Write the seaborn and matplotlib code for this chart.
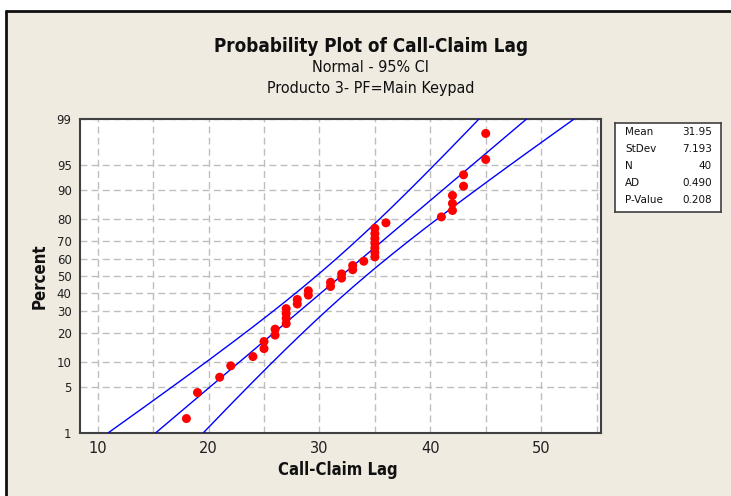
import matplotlib
matplotlib.use('Agg')
import matplotlib.pyplot as plt
from matplotlib.lines import Line2D
from matplotlib.patches import Rectangle
import seaborn as sns
import numpy as np
import pandas as pd
from statistics import NormalDist

# ---- data ----
values = [18, 19, 21, 22, 24, 25, 25, 26, 26, 27, 27, 27, 27, 28, 28, 29, 29,
          31, 31, 32, 32, 33, 33, 34, 35, 35, 35, 35, 35, 35, 35, 36, 41,
          42, 42, 42, 43, 43, 45, 45]
stat_labels = ["Mean", "StDev", "N", "AD", "P-Value"]
stat_values = ["31.95", "7.193", "40", "0.490", "0.208"]
mean_val = 31.95
stdev_val = 7.193
pct_ticks = [1, 5, 10, 20, 30, 40, 50, 60, 70, 80, 90, 95, 99]
x_ticks = [10, 20, 30, 40, 50]
x_minor = [15, 25, 35, 45, 55]

sns.set_style('white')
plt.rcParams['font.family'] = ['DejaVu Sans']

W, H = 731, 496
fig = plt.figure(figsize=(W / 100, H / 100), dpi=100)
fig.patch.set_facecolor('white')
bg = '#EFEBE1'
fig.patches.append(Rectangle((6 / W, 0), 1, 1 - 11 / H, transform=fig.transFigure,
                             facecolor=bg, edgecolor='none', zorder=-10))
fig.lines.append(Line2D([6 / W, 1], [1 - 11 / H, 1 - 11 / H], transform=fig.transFigure,
                        color='#101010', lw=2, zorder=-5))
fig.lines.append(Line2D([6 / W, 6 / W], [0, 1 - 11 / H], transform=fig.transFigure,
                        color='#101010', lw=2, zorder=-5))

nd = NormalDist()
n = len(values)
ranks = np.arange(1, n + 1)
pp = (ranks - 0.3) / (n + 0.4)
df = pd.DataFrame({'x': sorted(values), 'z': [nd.inv_cdf(p) for p in pp]})

zlo, zhi = nd.inv_cdf(0.01), nd.inv_cdf(0.99)
zg = np.linspace(zlo, zhi, 200)
fit = mean_val + stdev_val * zg
se = stdev_val * np.sqrt(1 / n + zg ** 2 / (2 * n))
lines = pd.DataFrame({'z': zg, 'fit': fit, 'lo': fit - 1.96 * se, 'hi': fit + 1.96 * se})

ax = fig.add_axes([80 / W, 1 - 433 / H, (601 - 80) / W, (433 - 119) / H])
ax.set_facecolor('white')

for col in ['lo', 'fit', 'hi']:
    sns.lineplot(data=lines, x=col, y='z', sort=False, ax=ax, color='#0000FF',
                 lw=1.0, estimator=None, zorder=3)
sns.scatterplot(data=df, x='x', y='z', ax=ax, color='#FF0000', s=42,
                edgecolor='none', zorder=4)

ax.set_xlim(8.4, 55.4)
ax.set_ylim(zlo, zhi)
ax.set_xticks(x_ticks)
ax.set_xticks(x_minor, minor=True)
ax.set_xticklabels([str(t) for t in x_ticks], fontsize=10.5, color='#202020')
ax.set_yticks([nd.inv_cdf(p / 100) for p in pct_ticks])
ax.set_yticklabels([str(p) for p in pct_ticks], fontsize=8.5, color='#202020')
ax.grid(which='both', axis='x', ls=(0, (5, 3)), color='#BEBEBE', lw=1)
ax.grid(which='major', axis='y', ls=(0, (5, 3)), color='#BEBEBE', lw=1)
ax.set_axisbelow(True)
ax.tick_params(axis='both', which='major', direction='out', length=4, width=1,
               color='#303030', pad=2)
ax.tick_params(axis='x', which='minor', length=0)
for sp in ax.spines.values():
    sp.set_color('#404040')
    sp.set_linewidth(1.5)
ax.set_xlabel('')
ax.set_ylabel('')

fig.text(40 / W, 1 - 276 / H, 'Percent', rotation=90, ha='center', va='center',
         fontsize=12, fontweight='bold', fontstretch='condensed', color='#101010')
fig.text(338 / W, 1 - 470 / H, 'Call-Claim Lag', ha='center', va='center',
         fontsize=12, fontweight='bold', fontstretch='condensed', color='#101010')

fig.text(371 / W, 1 - 46 / H, 'Probability Plot of Call-Claim Lag', ha='center',
         va='center', fontsize=13.5, fontweight='bold', fontstretch='condensed',
         color='#101010')
fig.text(370 / W, 1 - 68 / H, 'Normal - 95% CI', ha='center', va='center',
         fontsize=11.5, fontstretch='condensed', color='#101010')
fig.text(371 / W, 1 - 89 / H, 'Producto 3- PF=Main Keypad', ha='center', va='center',
         fontsize=11.5, fontstretch='condensed', color='#101010')

# statistics box
bx = fig.add_axes([615 / W, 1 - 212 / H, (721 - 615) / W, (212 - 123) / H])
bx.set_facecolor('white')
bx.set_xticks([])
bx.set_yticks([])
for sp in bx.spines.values():
    sp.set_color('#404040')
    sp.set_linewidth(1.2)
ys = [131.7, 149, 166, 183, 200]
for lab, val, yp in zip(stat_labels, stat_values, ys):
    fig.text(625 / W, 1 - yp / H, lab, ha='left', va='center', fontsize=7.5,
             color='#101010')
    fig.text(712 / W, 1 - yp / H, val, ha='right', va='center', fontsize=7.5,
             color='#101010')

fig.savefig('out.png', dpi=100, facecolor=fig.get_facecolor())
